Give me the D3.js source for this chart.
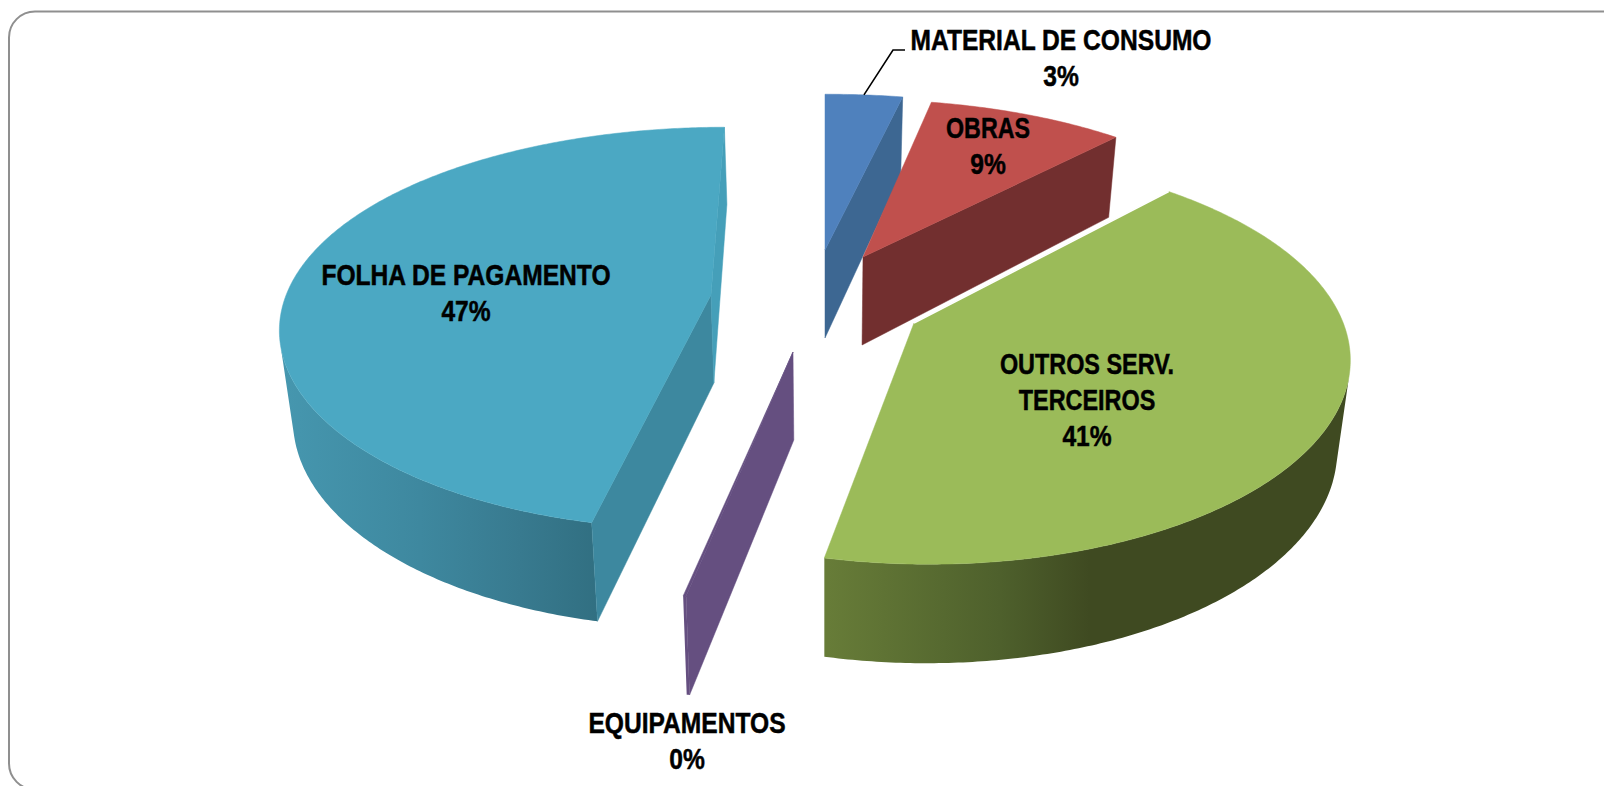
<!DOCTYPE html>
<html>
<head>
<meta charset="utf-8">
<script src="https://cdn.jsdelivr.net/npm/d3@7"></script>
<style>
html,body{margin:0;padding:0;background:#fff;overflow:hidden}
svg{display:block}
text{font-family:"Liberation Sans",Arial,sans-serif;font-weight:700;fill:#000;stroke:#000;stroke-width:.5;text-anchor:middle}
</style>
</head>
<body>
<svg id="c" width="1604" height="786"></svg>
<script>
// ---- data ----
const categories = ["MATERIAL DE CONSUMO","OBRAS","OUTROS SERV. TERCEIROS","EQUIPAMENTOS","FOLHA DE PAGAMENTO"];
const values = [3.3, 8.9, 41.2, 0.1, 46.5];
const percentLabels = ["3%","9%","41%","0%","47%"];
const labelLines = [["MATERIAL DE CONSUMO"],["OBRAS"],["OUTROS SERV.","TERCEIROS"],["EQUIPAMENTOS"],["FOLHA DE PAGAMENTO"]];

// ---- styles & layout ----
const topColors  = ["#4f81bd","#c0504d","#9bbb59","#654f80","#4ba8c3"];
const startFaceColors = ["#3d6792","#722f2f","#7c9647","#654f80","#3d889f"];
const endFaceColors   = ["#3d6792","#722f2f","#7c9647","#654f80","#459fb9"];
const wallStops  = [
  [[825,"#3d6792"],[905,"#3d6792"]],
  [[860,"#722f2f"],[1120,"#722f2f"]],
  [[828,"#677c38"],[1000,"#4e602c"],[1090,"#3f4a21"],[1350,"#3f4a21"]],
  [[680,"#654f80"],[700,"#654f80"]],
  [[280,"#4697af"],[420,"#3e889f"],[520,"#387a8f"],[600,"#316f81"]]
];
const apex = [[825,250],[863,257],[914,323],[793,352],[711,295]];
const sliceScale = [[1.01,.91],[.945,.92],[.98,1.01],[.97,1.05],[.97,.98]];
const sliceShear = [0,4.4,15,-3.7,-13.4];
const labelAnchors = [[1061,50],[988,138],[1087,374],[687,733],[466,285]];
const nameScale = [.82,.775,.78,.82,.82];
const percentScale = .82;
const lineStep = 36.2;
const drawOrder = [0,1,3,4,2];
const A = 438, B = 205, PX = .15, PY = .165, VX = 825, SHRINK = .025;

const svg = d3.select("#c");
const defs = svg.append("defs");

svg.append("rect").attr("x",9).attr("y",11.5).attr("width",1630).attr("height",778)
  .attr("rx",26).attr("ry",26).attr("fill","#fff").attr("stroke","#8f8f8f").attr("stroke-width",2);

const arcs = d3.pie().sort(null).value(d=>d)(values);

function topPoint(i, th){
  const u = Math.sin(th), v = -Math.cos(th);
  const [cx,cy] = apex[i], [sx,sy] = sliceScale[i];
  return [cx + sx*A*u*(1+PX*v) + sliceShear[i]*v, cy + sy*B*v*(1+PY*v), v];
}
function lower(p){
  return [p[0] + SHRINK*(VX-p[0]), p[1] + 88 + 11*p[2]];
}
const area = q => d3.polygonArea(q);
const line = d3.line();

drawOrder.forEach(i=>{
  const a = arcs[i], g = svg.append("g").attr("class","slice");
  const n = Math.max(2, Math.ceil((a.endAngle-a.startAngle)/.01));
  const arcPts = d3.range(n+1).map(k=>topPoint(i, a.startAngle+(a.endAngle-a.startAngle)*k/n));
  const c = [apex[i][0],apex[i][1],0];

  const gid = "w"+i;
  const stops = wallStops[i];
  const grad = defs.append("linearGradient").attr("id",gid).attr("gradientUnits","userSpaceOnUse")
    .attr("x1",stops[0][0]).attr("x2",stops[stops.length-1][0]).attr("y1",0).attr("y2",0);
  const span = stops[stops.length-1][0]-stops[0][0];
  stops.forEach(s=>grad.append("stop").attr("offset",(s[0]-stops[0][0])/span).attr("stop-color",s[1]));
  let run = [];
  const flush = ()=>{
    if(run.length>1){
      const poly = run.map(p=>[p[0],p[1]]).concat(run.slice().reverse().map(lower));
      g.append("path").attr("d",line(poly)+"Z").attr("fill",`url(#${gid})`);
    }
    run = [];
  };
  for(let k=0;k<n;k++){
    const p=arcPts[k], q=arcPts[k+1];
    const vis = area([p,q,lower(q),lower(p)].map(d=>[d[0],d[1]])) > 0;
    if(vis){ if(!run.length) run.push(p); run.push(q); } else flush();
  }
  flush();

  const s = arcPts[0], e = arcPts[n];
  [[c,s,startFaceColors[i]],[e,c,endFaceColors[i]]].forEach(([p,q,col])=>{
    const quad = [p,q,lower(q),lower(p)].map(d=>[d[0],d[1]]);
    if(area(quad) > 0) g.append("path").attr("d",line(quad)+"Z").attr("fill",col)
      .attr("stroke",col).attr("stroke-width",.5);
  });

  const topPoly = [c].concat(arcPts).map(d=>[d[0],d[1]]);
  g.append("path").attr("d",line(topPoly)+"Z").attr("fill",topColors[i])
    .attr("stroke",topColors[i]).attr("stroke-width",.5);
  if(i===2) g.append("path").attr("d",line([[c[0],c[1]],[s[0],s[1]]])).attr("stroke","#fff").attr("stroke-width",1.6).attr("fill","none");
});

const leaderTop = topPoint(0, (arcs[0].startAngle+arcs[0].endAngle)/2);
svg.append("path").attr("d",line([[leaderTop[0],leaderTop[1]],[893,50],[905,50]]))
  .attr("fill","none").attr("stroke","#000").attr("stroke-width",1.6);

categories.forEach((cat,i)=>{
  const lines = labelLines[i].concat([percentLabels[i]]);
  const [x,y] = labelAnchors[i];
  const t = svg.append("g").attr("class","label").attr("data-category",cat);
  lines.forEach((l,j)=>{
    const sc = j === lines.length-1 ? percentScale : nameScale[i];
    t.append("text").attr("transform",`translate(${x},${y+j*lineStep}) scale(${sc},1)`)
      .attr("font-size",30).text(l);
  });
});
</script>
</body>
</html>
